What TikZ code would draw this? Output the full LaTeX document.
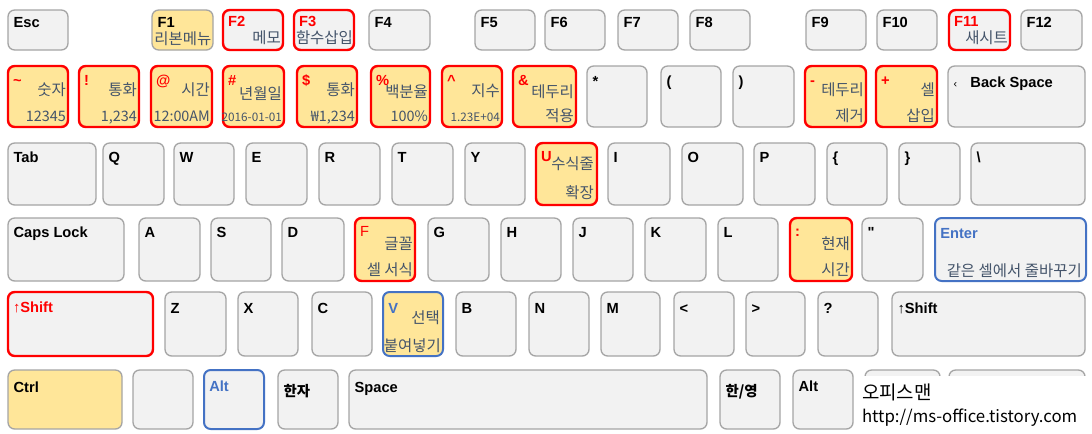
\documentclass[tikz,border=0pt]{standalone}
\usepackage{fontspec}
\setmainfont{Liberation Sans}
\newfontfamily\kr{Noto Sans CJK KR}
\usetikzlibrary{fit}

\definecolor{keyfill}{HTML}{F2F2F2}
\definecolor{keyline}{HTML}{A5A5A5}
\definecolor{hlfill}{HTML}{FFE699}
\definecolor{hotred}{HTML}{FF0000}
\definecolor{hotblue}{HTML}{4472C4}
\definecolor{desctext}{HTML}{44546A}

\newcommand\tinynum{\fontsize{8.8}{10}\selectfont}
\newcommand\numsz{\fontsize{10.8}{12}\selectfont}

\tikzset{
  key/.style={draw=keyline, fill=keyfill, line width=1pt, rounded corners=5pt, inner sep=0pt},
  hl/.style={fill=hlfill},
  redkey/.style={draw=hotred, line width=1.8pt},
  bluekey/.style={draw=hotblue, line width=1.5pt},
  lbl/.style={font=\bfseries\fontsize{11}{13}\selectfont, inner sep=0pt, anchor=base west},
  redtxt/.style={text=hotred},
  bluetxt/.style={text=hotblue},
  krlbl/.style={font=\kr\bfseries\fontsize{10.8}{12}\selectfont},
  desc/.style={font=\kr\fontsize{11.6}{13}\selectfont, text=desctext, inner sep=0pt, anchor=base east},
}

% key cap: [style]{name}{x1}{y1}{x2}{y2}
\newcommand\kbox[6][]{\node[key,#1,fit={(#3,#4) (#5,#6)}] (#2) {};}
% key label, top left: [style]{key}{baseline}{text}
\newcommand\ktop[4][]{\node[lbl,#1] (#2-top) at ([shift={(6,#3)}]#2.north west) {#4};}
% hint text, right side: [style]{key}{tag}{inset}{baseline}{text}
\newcommand\kdesc[6][]{\node[desc,#1] (#2-#3) at ([shift={(-#4,#5)}]#2.north east) {#6};}

\begin{document}
\begin{tikzpicture}[x=0.75pt, y=-0.75pt]
\useasboundingbox (0,0) rectangle (1092,433);
\fill[white] (0,0) rectangle (1092,433);

% function row
\foreach \nm/\lab/\xa/\xb in {esc/Esc/8/68, f4/F4/369/430, f5/F5/475/535, f6/F6/545/605,
    f7/F7/618/678, f8/F8/690/750, f9/F9/806/866, f10/F10/877/937, f12/F12/1021/1082}
  {\kbox{\nm}{\xa}{10}{\xb}{50} \ktop{\nm}{18}{\lab}}
\kbox[hl]{f1}{152}{10}{213}{50} \ktop{f1}{18}{F1} \kdesc{f1}{d}{2}{35}{리본메뉴}
\kbox[redkey]{f2}{223}{10}{283}{50} \ktop[redtxt]{f2}{18}{F2} \kdesc{f2}{d}{3}{35}{메모}
\kbox[redkey]{f3}{294}{10}{354}{50} \ktop[redtxt]{f3}{18}{F3} \kdesc{f3}{d}{2}{35}{함수삽입}
\kbox[redkey]{f11}{949}{10}{1010}{50} \ktop[redtxt]{f11}{18}{F11} \kdesc{f11}{d}{3}{35}{새시트}

% number row
\foreach \nm/\xa/\xb/\lab/\hia/\off/\hib in {tilde/8/68/\textasciitilde/숫자/31/{\numsz 12345},
    excl/79/139/!/통화/31/{\numsz 1,234}, at/151/212/@/시간/31/{\numsz 12:00AM},
    hash/223/284/\#/년월일/35/{\tinynum 2016-01-01}, dollar/297/357/\$/통화/31/{\numsz ₩1,234},
    pct/371/430/\%/백분율/33/{\numsz 100\%}, caret/442/502/\textasciicircum/지수/32/{\tinynum 1.23E+04},
    amp/513/576/\&/테두리/33/적용, minus/805/866/-/테두리/31/제거, plus/876/937/+/셀/31/삽입}
  {\kbox[hl,redkey]{\nm}{\xa}{66}{\xb}{127} \ktop[redtxt]{\nm}{21}{\lab}
   \kdesc{\nm}{a}{3}{\off}{\hia} \kdesc{\nm}{b}{3}{57}{\hib}}
\foreach \nm/\lab/\xa/\xb in {star/*/587/647, lpar/(/661/721, rpar/)/733/794}
  {\kbox{\nm}{\xa}{66}{\xb}{127} \ktop{\nm}{21}{\lab}}
\kbox{bksp}{948}{66}{1085}{127} \ktop{bksp}{22}{{\mdseries\footnotesize ‹}\hspace{10pt}Back Space}

% top letter row
\foreach \nm/\lab/\xa/\xb in {tab/Tab/8/96, kq/Q/103/164, kw/W/174/234, ke/E/246/307,
    kr/R/319/380, kt/T/392/453, ky/Y/465/525, ki/I/608/670, ko/O/682/743, kp/P/754/815,
    lbrace/\{/827/887, rbrace/\}/899/960, bslash/\textbackslash/971/1085}
  {\kbox{\nm}{\xa}{143}{\xb}{205} \ktop{\nm}{20}{\lab}}
\kbox[hl,redkey]{ku}{536}{143}{597}{205} \ktop[redtxt]{ku}{20}{U}
\kdesc{ku}{a}{4}{28}{수식줄} \kdesc{ku}{b}{4}{57}{확장}

% home row
\foreach \nm/\lab/\xa/\xb in {caps/Caps Lock/8/124, ka/A/139/200, ks/S/211/271, kd/D/282/344,
    kg/G/428/489, kh/H/501/561, kj/J/573/633, kk/K/645/706, kl/L/718/778,
    quote/\textquotedbl/862/923}
  {\kbox{\nm}{\xa}{218}{\xb}{281} \ktop{\nm}{20}{\lab}}
\kbox[hl,redkey]{kf}{355}{218}{415}{281} \ktop[redtxt]{kf}{20}{\mdseries F}
\kdesc{kf}{a}{3}{33}{글꼴} \kdesc{kf}{b}{3}{59}{셀 서식}
\kbox[hl,redkey]{colon}{790}{218}{852}{281} \ktop[redtxt]{colon}{20}{:}
\kdesc{colon}{a}{3}{33}{현재} \kdesc{colon}{b}{3}{59}{시간}
\kbox[bluekey]{enter}{935}{218}{1086}{281} \ktop[bluetxt]{enter}{21}{Enter}
\kdesc{enter}{b}{5}{59}{같은 셀에서 줄바꾸기}

% bottom letter row
\foreach \nm/\lab/\xa/\xb in {kz/Z/165/226, kx/X/238/298, kc/C/312/372, kb/B/456/516,
    kn/N/529/589, km/M/601/660, less/</674/734, greater/>/746/805, quest/?/818/878,
    rshift/{{\mdseries ↑}Shift}/892/1085}
  {\kbox{\nm}{\xa}{292}{\xb}{356} \ktop{\nm}{22}{\lab}}
\kbox[redkey]{lshift}{8}{292}{153}{356} \ktop[redtxt]{lshift}{22}{{\mdseries ↑}Shift}
\kbox[hl,bluekey]{kv}{383}{292}{443}{356} \ktop[bluetxt]{kv}{22}{V}
\kdesc{kv}{a}{4}{32}{선택} \kdesc{kv}{b}{3}{60}{붙여넣기}

% space row
\kbox[hl]{ctrl}{8}{370}{122}{429} \ktop{ctrl}{23}{Ctrl}
\kbox{blank}{133}{370}{193}{429}
\kbox[bluekey]{lalt}{204}{370}{264}{429} \ktop[bluetxt]{lalt}{22}{Alt}
\kbox{hanja}{278}{370}{338}{429} \ktop[krlbl]{hanja}{27}{한자}
\kbox{space}{349}{370}{707}{429} \ktop{space}{23}{Space}
\kbox{hanyoung}{720}{370}{780}{429} \ktop[krlbl]{hanyoung}{27}{한/영}
\kbox{ralt}{793}{370}{853}{429} \ktop{ralt}{22}{Alt}
\kbox{menu}{865}{370}{940}{429}
\kbox{rctrl}{949}{370}{1085}{429}

% credit box
\node[fill=white, inner sep=0pt, fit={(855,376) (1092,433)}] (credit) {};
\node[anchor=base west, inner sep=0pt, font=\kr\fontsize{14.2}{16}\selectfont] (brand)
  at ([shift={(7,24)}]credit.north west) {오피스맨};
\node[anchor=base west, inner sep=0pt, font=\kr\fontsize{12.6}{15}\selectfont] (blog)
  at ([shift={(7,47)}]credit.north west) {http://ms-office.tistory.com};
\end{tikzpicture}
\end{document}
